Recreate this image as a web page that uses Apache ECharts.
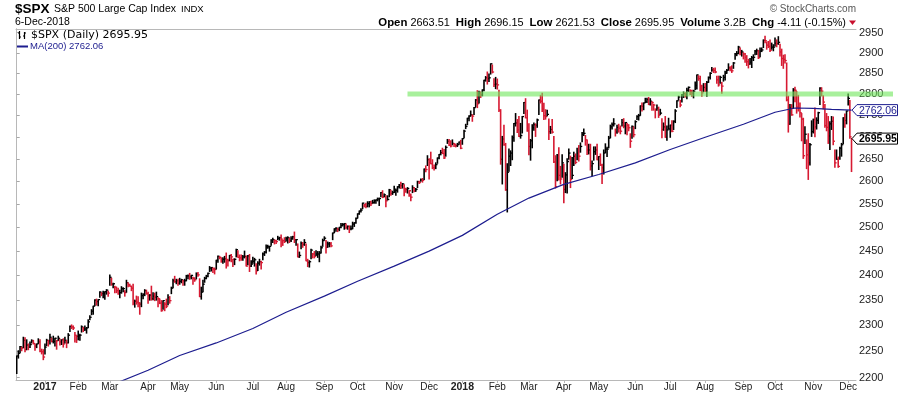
<!DOCTYPE html>
<html><head><meta charset="utf-8">
<script src="https://cdn.jsdelivr.net/npm/echarts@6/dist/echarts.min.js"></script>
<style>html,body{margin:0;padding:0;background:#fff}#c{width:900px;height:396px}</style>
</head><body><div id="c"></div>
<script>
// ---------------- DATA ----------------
const FIRST_DAY = '2016-12-07';
const LAST_DAY = '2018-12-06';
const HOLIDAYS = ['2016-12-26','2017-01-02','2017-01-16','2017-02-20','2017-04-14','2017-05-29','2017-07-04','2017-09-04','2017-11-23','2017-12-25','2018-01-01','2018-01-15','2018-02-19','2018-03-30','2018-05-28','2018-07-04','2018-09-03','2018-11-22','2018-12-05'];

const HIGH = [
2241,2251,2259,2258,2277,2276,2272,2264,2268,2272,2271,2264,2264,2274,2272,2254,2253,
2264,2273,2271,2283,2275,2279,2275,2271,2279,2273,2272,2274,2277,2271,2284,2299,2301,2299,2286,2280,
2289,2283,2299,2296,2299,2296,2311,2319,2331,2338,2351,2352,2351,2367,2365,2368,2367,2371,2368,
2401,2394,2384,2378,2376,2374,2370,2377,2375,2369,2390,2385,2382,2378,2382,2350,2358,2357,2345,2364,2363,2371,2370,
2366,2361,2378,2365,2364,2366,2355,2352,2349,2349,2345,2352,2361,2357,2376,2392,2398,2392,2392,
2394,2392,2390,2392,2400,2401,2404,2400,2396,2395,2405,2406,2393,2376,2390,2396,2400,2405,2418,2416,2415,2415,
2431,2440,2439,2436,2436,2439,2446,2433,2441,2443,2433,2434,2454,2451,2442,2442,2441,2450,2440,2441,2443,2430,
2437,2435,2424,2428,2433,2429,2446,2449,2463,2462,2460,2474,2477,2473,2473,2481,2479,2484,2473,2478,
2479,2480,2477,2480,2481,2490,2474,2465,2448,2469,2468,2474,2465,2433,2430,2454,2445,2449,2451,2449,2449,2460,2475,
2480,2472,2469,2468,2468,2488,2497,2499,2498,2500,2508,2508,2508,2507,2503,2503,2503,2511,2510,2520,
2529,2535,2540,2552,2549,2552,2555,2555,2556,2558,2559,2559,2563,2563,2575,2579,2572,2568,2568,2582,2580,2578,
2589,2583,2588,2593,2598,2595,2592,2584,2586,2579,2572,2590,2586,2584,2600,2600,2605,2606,2627,2634,2657,
2650,2665,2648,2636,2641,2652,2660,2669,2674,2671,2679,2694,2694,2691,2693,2685,2682,2685,2688,2692,
2696,2715,2729,2743,2749,2760,2751,2768,2787,2808,2807,2805,2810,2833,2842,2853,2848,2873,2870,2837,2840,
2836,2809,2763,2701,2727,2685,2639,2672,2668,2702,2731,2754,2740,2747,2731,2747,2780,2789,2762,
2730,2694,2728,2732,2730,2741,2786,2797,2802,2778,2763,2762,2741,2724,2740,2701,2657,2660,2675,2633,2659,
2638,2619,2650,2672,2656,2653,2665,2661,2674,2680,2686,2710,2718,2703,2693,2683,2683,2645,2677,2677,2683,
2655,2661,2638,2670,2684,2676,2701,2727,2732,2742,2718,2727,2729,2725,2740,2742,2733,2731,2728,2707,2725,2723,
2737,2749,2752,2772,2779,2779,2790,2790,2792,2789,2782,2776,2765,2774,2769,2764,2742,2732,2747,2725,2743,
2727,2737,2737,2763,2784,2795,2785,2799,2805,2803,2814,2817,2810,2809,2809,2829,2846,2844,2843,2821,2825,
2825,2830,2841,2851,2864,2862,2863,2843,2843,2843,2828,2845,2855,2859,2873,2866,2868,2876,2898,2903,2916,2912,2906,
2900,2898,2893,2884,2886,2891,2895,2906,2909,2906,2912,2912,2932,2941,2927,2928,2932,2924,2920,
2937,2932,2940,2921,2909,2894,2895,2875,2795,2775,2775,2813,2816,2806,2797,2779,2754,2743,2723,2693,2707,2685,2737,
2741,2767,2744,2757,2815,2815,2796,2775,2754,2747,2735,2747,2746,2670,2670,2654,2676,2685,2744,2753,2760,
2800,2785,2696.15
];
const LOW = [
2208,2237,2247,2251,2257,2249,2253,2253,2257,2266,2264,2252,2257,2265,2249,2245,2234,
2245,2261,2260,2264,2268,2266,2260,2254,2271,2262,2263,2258,2266,2257,2266,2288,2294,2292,2268,2267,
2272,2271,2287,2288,2290,2285,2296,2311,2321,2322,2339,2340,2339,2356,2359,2355,2352,2362,2358,
2380,2380,2375,2365,2365,2362,2355,2364,2367,2358,2366,2377,2378,2369,2341,2336,2342,2337,2322,2337,2353,2359,2362,
2344,2350,2350,2351,2349,2350,2337,2343,2328,2332,2329,2335,2341,2344,2363,2375,2386,2383,2380,
2382,2385,2380,2380,2389,2393,2392,2393,2382,2388,2393,2398,2357,2352,2367,2386,2393,2397,2408,2409,2406,2403,
2413,2427,2434,2427,2425,2427,2415,2419,2430,2428,2418,2422,2438,2437,2430,2431,2431,2436,2419,2422,2408,2418,
2425,2419,2403,2410,2421,2413,2432,2441,2446,2456,2450,2462,2468,2465,2466,2474,2473,2459,2462,2468,
2471,2467,2468,2470,2475,2468,2462,2438,2437,2455,2458,2462,2430,2418,2417,2434,2436,2436,2441,2437,2428,2446,2460,
2473,2446,2458,2459,2459,2474,2489,2492,2491,2493,2499,2503,2496,2497,2496,2489,2495,2497,2502,2509,
2520,2528,2533,2540,2544,2542,2544,2544,2547,2552,2552,2552,2557,2547,2566,2564,2566,2544,2559,2566,2569,2571,
2575,2569,2576,2585,2584,2585,2568,2576,2574,2567,2557,2575,2577,2578,2586,2595,2600,2598,2604,2621,2635,
2605,2639,2628,2625,2628,2640,2650,2659,2662,2651,2656,2685,2680,2677,2682,2678,2677,2678,2683,2673,
2683,2698,2719,2728,2737,2748,2736,2752,2770,2768,2779,2792,2796,2808,2831,2824,2830,2848,2851,2818,2813,
2812,2759,2638,2594,2681,2580,2533,2622,2635,2648,2690,2725,2710,2701,2697,2709,2754,2744,2713,
2659,2647,2675,2715,2701,2722,2752,2779,2759,2740,2741,2749,2694,2708,2709,2642,2585,2601,2603,2594,2609,
2553,2575,2574,2649,2586,2606,2635,2639,2648,2645,2665,2689,2703,2681,2660,2661,2625,2612,2647,2660,2648,
2626,2635,2595,2616,2664,2655,2675,2698,2718,2725,2702,2708,2711,2707,2725,2721,2707,2705,2714,2676,2697,2700,
2719,2740,2739,2750,2760,2763,2780,2780,2775,2774,2762,2762,2744,2762,2745,2752,2698,2715,2699,2692,2718,
2699,2712,2717,2733,2768,2786,2770,2781,2792,2793,2789,2806,2799,2795,2791,2811,2812,2833,2808,2795,2806,
2806,2795,2828,2836,2855,2852,2851,2826,2819,2826,2802,2831,2834,2850,2858,2856,2852,2862,2884,2893,2898,2895,2892,
2885,2877,2869,2863,2872,2864,2881,2895,2896,2886,2890,2903,2913,2925,2909,2913,2903,2909,2905,
2917,2915,2921,2892,2869,2862,2875,2784,2711,2729,2750,2766,2782,2755,2760,2746,2691,2651,2685,2628,2604,2636,2701,
2709,2700,2718,2731,2775,2796,2765,2722,2714,2685,2671,2717,2682,2631,2649,2631,2649,2656,2684,2722,2730,
2774,2697,2621.53
];
const CLOSE = [
2241,2246,2259,2256,2271,2253,2262,2258,2263,2270,2265,2260,2264,2268,2250,2249,2239,
2258,2271,2270,2277,2269,2269,2275,2270,2275,2268,2272,2264,2271,2266,2281,2298,2297,2295,2281,2279,
2280,2281,2297,2293,2293,2295,2307,2316,2328,2338,2350,2347,2351,2366,2363,2364,2367,2370,2364,
2396,2382,2383,2376,2369,2363,2365,2373,2373,2365,2385,2381,2378,2374,2344,2348,2346,2344,2342,2359,2361,2369,2363,
2359,2360,2353,2358,2356,2357,2353,2344,2329,2349,2342,2338,2355,2349,2374,2389,2387,2389,2384,
2388,2391,2389,2389,2399,2399,2397,2400,2394,2391,2403,2401,2357,2366,2382,2394,2398,2404,2415,2416,2413,2412,
2431,2439,2437,2429,2433,2434,2432,2430,2441,2438,2433,2433,2453,2437,2436,2435,2438,2439,2419,2440,2419,2423,
2429,2432,2409,2425,2428,2426,2444,2448,2459,2459,2460,2473,2474,2472,2470,2477,2478,2475,2472,2470,
2476,2478,2472,2476,2480,2474,2474,2438,2441,2466,2464,2468,2430,2426,2428,2452,2444,2439,2444,2444,2446,2457,2472,
2477,2458,2465,2465,2461,2488,2497,2498,2496,2500,2504,2506,2508,2500,2502,2497,2497,2507,2510,2519,
2529,2535,2537,2552,2549,2545,2551,2555,2551,2553,2558,2559,2561,2562,2575,2565,2570,2557,2560,2581,2573,2575,
2579,2580,2588,2591,2590,2594,2584,2582,2584,2579,2565,2586,2578,2582,2599,2597,2603,2602,2627,2626,2648,
2642,2639,2630,2629,2637,2652,2660,2664,2662,2652,2676,2690,2681,2679,2685,2683,2680,2682,2688,2674,
2696,2713,2724,2743,2748,2751,2748,2768,2786,2777,2803,2798,2810,2833,2839,2837,2839,2873,2853,2823,2824,
2822,2762,2649,2695,2682,2581,2620,2656,2663,2698,2731,2732,2716,2701,2703,2747,2780,2744,2714,
2678,2691,2721,2728,2727,2739,2786,2783,2765,2749,2747,2752,2712,2717,2711,2643,2588,2658,2613,2605,2641,
2582,2614,2644,2663,2604,2613,2656,2642,2663,2656,2678,2706,2708,2693,2670,2670,2634,2639,2666,2670,2648,
2655,2636,2630,2663,2672,2672,2697,2723,2728,2730,2711,2722,2720,2713,2733,2725,2733,2727,2721,2690,2724,2705,
2735,2747,2749,2772,2771,2779,2782,2787,2776,2783,2780,2774,2763,2767,2750,2755,2717,2723,2699,2716,2718,
2727,2713,2736,2760,2784,2793,2774,2798,2801,2798,2809,2816,2804,2802,2807,2821,2846,2837,2819,2803,2816,
2813,2828,2840,2850,2858,2857,2853,2834,2822,2840,2819,2840,2850,2857,2863,2861,2856,2875,2897,2898,2914,2901,2902,
2897,2889,2878,2872,2877,2888,2889,2904,2905,2888,2904,2907,2931,2930,2919,2916,2906,2914,2914,
2924,2923,2926,2902,2886,2884,2881,2786,2729,2767,2751,2810,2809,2769,2768,2756,2741,2657,2706,2659,2641,2682,2712,
2740,2723,2738,2756,2814,2807,2781,2726,2722,2702,2730,2736,2690,2641,2649,2633,2674,2682,2744,2738,2760,
2790,2700,2695.95
];

// 200-day moving average
const MA_DATES = ['2016-12-07','2017-01-03','2017-02-01','2017-03-01','2017-04-03','2017-05-01','2017-06-01','2017-07-03','2017-08-01','2017-09-01','2017-10-02','2017-11-01','2017-12-01','2018-01-02','2018-02-01','2018-03-01','2018-04-02','2018-05-01','2018-06-01','2018-07-02','2018-08-01','2018-09-04','2018-10-01','2018-10-17','2018-11-01','2018-11-16','2018-12-06'];
const MA_VALUES = [2108,2134,2158,2185,2214,2242,2266,2294,2326,2358,2388,2419,2450,2483,2528,2563,2593,2615,2641,2671,2699,2729,2757,2767,2766,2764,2762.06];

const Y_TICKS = [2200,2250,2300,2350,2400,2450,2500,2550,2600,2650,2700,2750,2800,2850,2900,2950];
const MONTH_NAMES = ['Jan','Feb','Mar','Apr','May','Jun','Jul','Aug','Sep','Oct','Nov','Dec'];
const RESISTANCE_LEVEL = 2800;
const RESISTANCE_FROM = '2017-11-13';
const LAST_MA = 2762.06;
const LAST_CLOSE = 2695.95;
const HEADER = {open:'2663.51', high:'2696.15', low:'2621.53', close:'2695.95', volume:'3.2B', chg:'-4.11 (-0.15%)'};

// ---------------- BUILD ----------------
const dates = [];
for (let t = Date.parse(FIRST_DAY + 'T00:00:00Z'); t <= Date.parse(LAST_DAY + 'T00:00:00Z'); t += 86400000) {
  const d = new Date(t), wd = d.getUTCDay(), s = d.toISOString().slice(0, 10);
  if (wd === 0 || wd === 6 || HOLIDAYS.indexOf(s) >= 0) continue;
  dates.push(s);
}
if (dates.length !== CLOSE.length || HIGH.length !== CLOSE.length || LOW.length !== CLOSE.length) {
  console.error('length mismatch', dates.length, HIGH.length, LOW.length, CLOSE.length);
}
const L = Math.log;
const RED = '#d71a32', BLACK = '#000000', BLUE = '#1d1d8f';
const Y_MIN = 2195.7, Y_MAX = 2959.3;
const X_MIN = -0.42, X_MAX = 504.7;
const FONT = 'Liberation Sans, Arial, sans-serif';

const bars = CLOSE.map((c, i) => [i, L(HIGH[i]), L(LOW[i]), L(c), (i > 0 && c < CLOSE[i - 1]) ? 1 : 0]);
const maData = MA_DATES.map((d, k) => [dates.indexOf(d), L(MA_VALUES[k])]);
const monthStarts = [];
for (let i = 1; i < dates.length; i++) if (dates[i].slice(0, 7) !== dates[i - 1].slice(0, 7)) monthStarts.push(i);

const chart = echarts.init(document.getElementById('c'), null, {renderer: 'canvas'});
const frameLine = {show: true, onZero: false, lineStyle: {color: '#b8b8b8', width: 1}};
chart.setOption({
  animation: false,
  backgroundColor: '#fff',
  grid: {left: 16, top: 29, right: 44, bottom: 16, containLabel: false},
  xAxis: [{
    type: 'value', min: X_MIN, max: X_MAX, position: 'bottom',
    axisLine: frameLine,
    axisTick: {show: true, customValues: monthStarts, length: 3, lineStyle: {color: '#b8b8b8'}},
    axisLabel: {
      customValues: monthStarts, margin: 2, fontSize: 10, color: '#222', fontFamily: FONT,
      formatter: v => {
        const d = dates[Math.round(v)];
        const m = +d.slice(5, 7);
        return m === 1 ? '{y|' + d.slice(0, 4) + '}' : MONTH_NAMES[m - 1];
      },
      rich: {y: {fontWeight: 'bold', fontSize: 10.5, color: '#222', fontFamily: FONT}}
    },
    splitLine: {show: false}
  }, {
    type: 'value', min: X_MIN, max: X_MAX, position: 'top',
    axisLine: frameLine, axisTick: {show: false}, axisLabel: {show: false}, splitLine: {show: false}
  }],
  yAxis: [{
    type: 'value', position: 'right', min: L(Y_MIN), max: L(Y_MAX),
    axisLine: {show: true, lineStyle: {color: '#a8a8a8', type: [1, 1]}},
    axisTick: {show: true, customValues: Y_TICKS.map(L), length: 3, lineStyle: {color: '#a8a8a8'}},
    axisLabel: {
      customValues: Y_TICKS.map(L), margin: 3, fontSize: 11, color: '#222', fontFamily: FONT,
      formatter: v => String(Math.round(Math.exp(v)))
    },
    splitLine: {show: false}
  }, {
    type: 'value', position: 'left', min: L(Y_MIN), max: L(Y_MAX),
    axisLine: frameLine, axisTick: {show: false}, axisLabel: {show: false}, splitLine: {show: false}
  }],
  series: [{
    type: 'custom', name: '$SPX', xAxisIndex: 0, yAxisIndex: 0, clip: true, silent: true, z: 2,
    data: bars,
    encode: {x: 0, y: [1, 2, 3]},
    renderItem: (params, api) => {
      const i = api.value(0);
      const h = api.coord([i, api.value(1)]);
      const l = api.coord([i, api.value(2)]);
      const c = api.coord([i, api.value(3)]);
      const col = api.value(4) ? RED : BLACK;
      return {type: 'group', children: [
        {type: 'line', shape: {x1: h[0], y1: h[1] - 0.5, x2: h[0], y2: l[1] + 0.5}, style: {stroke: col, lineWidth: 1.6}},
        {type: 'line', shape: {x1: c[0], y1: c[1], x2: c[0] + 1.8, y2: c[1]}, style: {stroke: col, lineWidth: 1.3}}
      ]};
    }
  }, {
    type: 'line', name: 'MA(200)', xAxisIndex: 0, yAxisIndex: 0, data: maData,
    showSymbol: false, clip: true, silent: true, z: 3,
    lineStyle: {color: BLUE, width: 1.2}
  }]
});

const xOf = i => chart.convertToPixel({xAxisIndex: 0}, i);
const yOf = v => chart.convertToPixel({yAxisIndex: 0}, L(v));
const yRes = yOf(RESISTANCE_LEVEL);
const yMa = yOf(LAST_MA);
const yPx = yOf(LAST_CLOSE);
const txt = (x, y, text, o) => Object.assign({type: 'text', z: 20, silent: true,
  style: Object.assign({x: x, y: y, text: text, fill: '#000', fontFamily: FONT, fontSize: 11, verticalAlign: 'middle', align: 'left'}, o || {})});
const box = (y, color) => ({type: 'polygon', z: 19, silent: true,
  shape: {points: [[852, y], [857, y - 5.5], [897.5, y - 5.5], [897.5, y + 5.5], [857, y + 5.5]]},
  style: {fill: '#fff', stroke: color, lineWidth: 1}});

chart.setOption({graphic: [
  // header
  txt(15, 9.5, '$SPX', {fontWeight: 'bold', fontSize: 13.5}),
  txt(54, 9.5, 'S&P 500 Large Cap Index', {fontSize: 10.5}),
  txt(181, 9.5, 'INDX', {fontSize: 9.5}),
  txt(15, 22.5, '6-Dec-2018', {fontSize: 10.5}),
  txt(856, 9.5, '© StockCharts.com', {fontSize: 10, fill: '#555', align: 'right'}),
  txt(846, 22.5,
    '{b|Open} ' + HEADER.open + '  {b|High} ' + HEADER.high + '  {b|Low} ' + HEADER.low +
    '  {b|Close} ' + HEADER.close + '  {b|Volume} ' + HEADER.volume + '  {b|Chg} ' + HEADER.chg,
    {fontSize: 10.9, align: 'right', rich: {b: {fontWeight: 'bold', fontSize: 11.4, fontFamily: FONT, fill: '#000'}}}),
  {type: 'polygon', z: 20, silent: true, shape: {points: [[849, 20.5], [856, 20.5], [852.5, 25]]}, style: {fill: '#c8102e'}},
  // legend
  {type: 'polyline', z: 20, silent: true, shape: {points: [[19.5, 31], [19.5, 39]]}, style: {stroke: '#000', lineWidth: 1.2}},
  {type: 'polyline', z: 20, silent: true, shape: {points: [[18, 33], [19.5, 33]]}, style: {stroke: '#000', lineWidth: 1}},
  {type: 'polyline', z: 20, silent: true, shape: {points: [[19.5, 37], [21, 37]]}, style: {stroke: '#000', lineWidth: 1}},
  {type: 'polyline', z: 20, silent: true, shape: {points: [[24.5, 32], [24.5, 39]]}, style: {stroke: '#000', lineWidth: 1.2}},
  {type: 'polyline', z: 20, silent: true, shape: {points: [[23, 36], [24.5, 36]]}, style: {stroke: '#000', lineWidth: 1}},
  {type: 'polyline', z: 20, silent: true, shape: {points: [[24.5, 33], [26, 33]]}, style: {stroke: '#000', lineWidth: 1}},
  txt(31, 35, '$SPX (Daily) ' + LAST_CLOSE.toFixed(2), {fontFamily: 'DejaVu Sans', fontSize: 11}),
  {type: 'line', z: 20, silent: true, shape: {x1: 17, y1: 46.5, x2: 28, y2: 46.5}, style: {stroke: BLUE, lineWidth: 2}},
  txt(30, 46.5, 'MA(200) ' + LAST_MA.toFixed(2), {fontSize: 9.5, fill: BLUE}),
  // resistance line
  {type: 'line', z: 15, silent: true,
    shape: {x1: xOf(dates.indexOf(RESISTANCE_FROM)), y1: yRes, x2: 893, y2: yRes},
    style: {stroke: 'rgba(115,230,95,0.62)', lineWidth: 5}},
  // last value boxes
  box(yMa, BLUE),
  txt(859, yMa + 0.5, LAST_MA.toFixed(2), {fontSize: 10.5, fill: BLUE}),
  box(yPx, '#000'),
  txt(859, yPx + 0.5, LAST_CLOSE.toFixed(2), {fontSize: 10.5, fontWeight: 'bold'})
]});
</script>
</body></html>
